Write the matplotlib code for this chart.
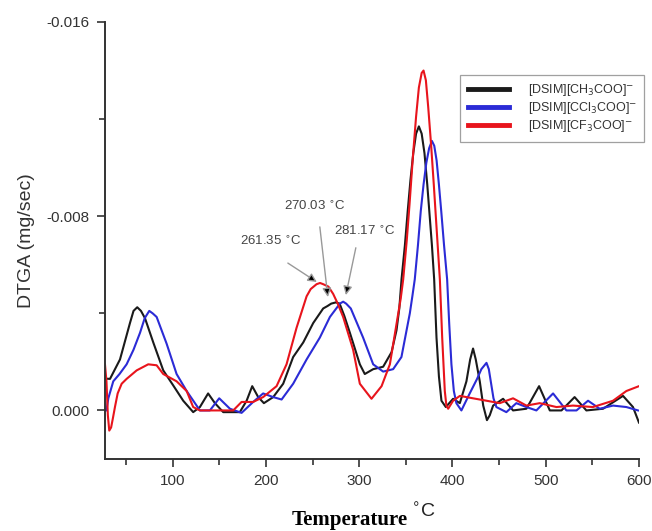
import matplotlib
matplotlib.use("Agg")
import matplotlib.pyplot as plt
from matplotlib.ticker import MultipleLocator, FixedLocator

# temperature (C) and DTGA (mg/sec)
t_ch3 = [27.4, 32.8, 43.5, 54.2, 58, 62, 66, 70.3, 79.2, 89.9, 100.6, 111.3, 122, 129.2, 138,
         145.3, 154.2, 172, 179.3, 185.3, 191.7, 197.8, 207.8, 218.5, 229.2, 240, 250.7, 261.4,
         266, 270, 275, 279, 284, 290, 300.7, 306, 315, 325.7, 334.7, 340, 343, 345.4, 349,
         352, 355, 358, 361, 364, 367, 370, 373, 375, 378, 380.4, 382.9, 385.5, 388.2, 392.9,
         400.7, 407.9, 415, 419, 422.1, 425, 429.3, 433, 437, 440, 443.6, 454.3, 465, 479.3,
         492.9, 504.4, 516.9, 531, 543.6, 561.5, 582.9, 593.6, 600]
d_ch3 = [-0.00131, -0.0013, -0.0021, -0.0036, -0.0041, -0.00425, -0.0041, -0.0038, -0.0028,
         -0.00165, -0.00103, -0.0004, 0.00007, -0.00014, -0.0007, -0.0003, 0.00007, 0.00007,
         -0.0004, -0.001, -0.00055, -0.0003, -0.00055, -0.0011, -0.0022, -0.0028, -0.0036,
         -0.0042, -0.0043, -0.0044, -0.00445, -0.0044, -0.0039, -0.0032, -0.0019, -0.0015,
         -0.0017, -0.0018, -0.0024, -0.0033, -0.0042, -0.0054, -0.0068, -0.0082, -0.0095,
         -0.0106, -0.0114, -0.0117, -0.0114, -0.0106, -0.0093, -0.0083, -0.0068, -0.0054,
         -0.003, -0.0014, -0.0004, -0.00014, -0.00048, -0.0003, -0.0012, -0.0021, -0.00255,
         -0.0021, -0.0012, -0.0002, 0.0004, 0.0002, -0.0002, -0.00048, 0.0, -0.00007, -0.001,
         0.0, 0.0, -0.00055, 0.0, -0.00007, -0.0006, -0.00014, 0.0005]

t_ccl3 = [27.4, 29, 31, 36.3, 43, 50.6, 58, 65, 70, 74.9, 78.5, 82.8, 93.5, 104.2, 115, 129.2,
          139.9, 149.9, 161.4, 173.9, 186.3, 197, 207.8, 216.8, 229.2, 243.6, 257.8, 268.6,
          279.3, 282.8, 286, 291, 304.2, 315, 325.7, 336.4, 345.3, 354.3, 357, 359.6, 363, 366,
          369, 372, 375, 378, 380.5, 383, 385.5, 388, 391, 394.3, 396.5, 398.9, 401.5, 404.2,
          409.6, 418.5, 426.4, 431, 436.5, 439, 441.5, 444, 447.1, 457.8, 468.5, 479.3, 490,
          507.9, 522.2, 533, 545.4, 557.9, 572.2, 586.5, 599]
d_ccl3 = [0.0, 0.0, -0.0005, -0.0012, -0.0015, -0.0019, -0.0025, -0.0032, -0.0038, -0.0041,
          -0.0040, -0.00385, -0.00275, -0.0015, -0.0008, 0.0, 0.0, -0.0005, -0.00007, 0.0001,
          -0.00035, -0.0007, -0.00055, -0.00045, -0.0011, -0.0021, -0.003, -0.00385, -0.0044,
          -0.00448, -0.0044, -0.0042, -0.003, -0.0019, -0.0016, -0.0017, -0.0022, -0.004,
          -0.0047, -0.0054, -0.0068, -0.0082, -0.0093, -0.0102, -0.0108, -0.0111, -0.0109,
          -0.0103, -0.0093, -0.0082, -0.0068, -0.0054, -0.0036, -0.0019, -0.0008, -0.0003,
          0.0, -0.0007, -0.0013, -0.0017, -0.00196, -0.0017, -0.0011, -0.0005, -0.00014,
          0.00007, -0.0003, -0.00014, 0.0, -0.0007, 0.0, 0.0, -0.0004, -0.00007, -0.0002,
          -0.00014, 0.0]

t_cf3 = [27.4, 29, 30.5, 32, 34, 36, 38.1, 41, 45.3, 50.6, 61.4, 73.8, 82.8, 89.9, 104.2, 115,
         122, 129.2, 150.6, 164.9, 173.9, 186.3, 197, 211.4, 222.1, 232.8, 243.6, 248, 254.3,
         258, 261.4, 267, 272.1, 277, 282.8, 293.5, 300.7, 313.2, 324, 332.9, 341.9, 344.5,
         347.2, 351, 354, 357.5, 361, 364, 367, 369, 371.5, 374, 377, 380, 383.5, 386.5, 389,
         391.8, 393.5, 395.4, 400.7, 408, 422, 436.5, 450.7, 465, 479.3, 493.6, 511.5, 529.3,
         550.7, 572.2, 586.5, 600]
d_cf3 = [-0.0019, -0.0012, 0.0002, 0.00083, 0.0007, 0.0003, -0.00014, -0.0007, -0.0011,
         -0.0013, -0.00165, -0.0019, -0.00186, -0.0015, -0.0012, -0.0008, -0.00014, 0.0, 0.0,
         0.0, -0.00035, -0.00035, -0.00055, -0.001, -0.0019, -0.0034, -0.0047, -0.005, -0.0052,
         -0.00525, -0.0052, -0.0051, -0.0048, -0.0044, -0.00385, -0.0025, -0.0011, -0.00048,
         -0.001, -0.0019, -0.004, -0.0046, -0.0054, -0.007, -0.0085, -0.0104, -0.0121, -0.0133,
         -0.0139, -0.014, -0.0136, -0.0125, -0.011, -0.0093, -0.0072, -0.0054, -0.003, -0.0008,
         -0.0002, -0.00007, -0.0004, -0.0006, -0.0005, -0.0004, -0.0003, -0.0005, -0.0002,
         -0.0003, -0.00014, -0.0002, -0.00014, -0.0004, -0.0008, -0.001]

labels = ["[DSIM][CH$_3$COO]$^{-}$", "[DSIM][CCl$_3$COO]$^{-}$", "[DSIM][CF$_3$COO]$^{-}$"]
colors = ["#1a1a1a", "#2b2bd6", "#e8141c"]

# peak annotations: text, arrow tip (T, DTGA), arrow tail, text position
peak_text = ["261.35 $^{\\circ}$C", "270.03 $^{\\circ}$C", "281.17 $^{\\circ}$C"]
peak_tip = [(254.6, -0.00529), (266.4, -0.00467), (285.7, -0.00475)]
peak_tail = [(223.5, -0.00607), (257.8, -0.00756), (296.4, -0.0067)]
peak_label_pos = [(205.3, -0.00694), (252.5, -0.00839), (306.1, -0.00736)]

plt.rcParams['font.family'] = ['Liberation Sans', 'DejaVu Sans']

fig = plt.figure(figsize=(6.52, 5.31), dpi=100)
ax = fig.add_axes([0.161, 0.1356, 0.819, 0.823])

for t, d, c, lab in zip([t_ch3, t_ccl3, t_cf3], [d_ch3, d_ccl3, d_cf3], colors, labels):
    ax.plot(t, d, color=c, lw=1.5, label=lab, solid_joinstyle="round")

for txt, tip, tail, pos in zip(peak_text, peak_tip, peak_tail, peak_label_pos):
    ax.annotate("", xy=tip, xytext=tail,
                arrowprops=dict(arrowstyle="-|>", color="#999999", lw=1.0,
                                mutation_scale=13, shrinkA=0, shrinkB=0,
                                fc="black", ec="#999999"))
    ax.text(pos[0], pos[1], txt, ha="center", va="center", fontsize=9.5, color="#444444")

ax.set_xlim(27.4, 600)
ax.set_ylim(0.002, -0.016)
ax.xaxis.set_major_locator(MultipleLocator(100))
ax.xaxis.set_minor_locator(MultipleLocator(50))
ax.yaxis.set_major_locator(FixedLocator([-0.016, -0.008, 0.0]))
ax.yaxis.set_minor_locator(FixedLocator([-0.012, -0.004]))
ax.set_yticklabels(["-0.016", "-0.008", "0.000"])
ax.tick_params(which="both", direction="out", colors="#333333", labelsize=11, width=1.2)
ax.tick_params(which="major", length=6, pad=5)
ax.tick_params(which="minor", length=4)
for s in ["top", "right"]:
    ax.spines[s].set_visible(False)
for s in ["left", "bottom"]:
    ax.spines[s].set_linewidth(1.4)
    ax.spines[s].set_color("#333333")

ax.set_ylabel("DTGA (mg/sec)", fontsize=14, color="#333333", labelpad=8)

fig.text(349.5 / 652, 1 - 520 / 531, "Temperature", family="Liberation Serif",
         fontweight="bold", fontsize=15, ha="center", va="center", color="black")
fig.text(411 / 652, 1 - 512 / 531, "$^{\\circ}$C", fontsize=14, ha="left", va="center",
         color="#222222")

leg = ax.legend(loc="upper right", bbox_to_anchor=(644 / 652, 1 - 75 / 531),
                bbox_transform=fig.transFigure, fontsize=9, handlelength=3.3,
                fancybox=False, borderaxespad=0, handletextpad=1.5,
                labelspacing=0.15, borderpad=0.6, labelcolor="#333333")
leg.get_frame().set_edgecolor("#888888")
leg.get_frame().set_linewidth(0.9)
for line in leg.get_lines():
    line.set_linewidth(3.5)

fig.savefig("out.png", dpi=100)
